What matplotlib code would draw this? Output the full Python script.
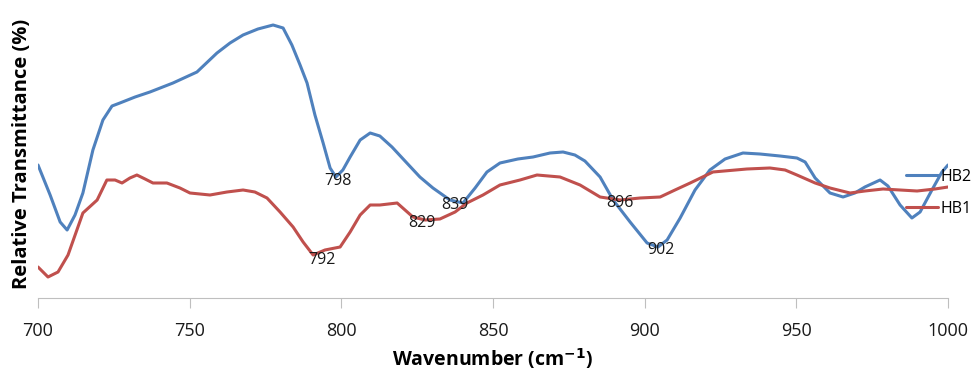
import matplotlib
matplotlib.use("Agg")
import matplotlib.pyplot as plt

plt.rcParams['font.family'] = ['Open Sans', 'DejaVu Sans']

# HB2 (blue) wavenumber / relative transmittance (arbitrary units)
hb2_x = [700.0, 704.0, 707.3, 709.6, 712.2, 714.8, 718.1, 721.4, 724.4, 727.0, 732.0, 736.9,
         744.5, 752.4, 759.0, 763.3, 767.6, 772.5, 777.5, 780.8, 783.7, 786.4, 788.7, 791.3,
         794.0, 796.3, 798.2, 800.5, 802.9, 806.2, 809.5, 812.7, 816.7, 821.6, 825.9, 830.2,
         835.8, 840.1, 844.1, 848.0, 852.3, 858.2, 863.2, 868.8, 873.1, 877.0, 880.3, 885.3,
         889.6, 895.2, 900.8, 904.4, 907.4, 911.7, 916.6, 921.5, 926.5, 932.4, 938.0, 944.6,
         950.2, 952.9, 956.2, 961.1, 965.4, 969.3, 972.6, 977.6, 980.2, 984.2, 988.1, 990.8,
         994.7, 998.0, 1000.0]
hb2_y = [133, 103, 76, 68, 83, 105, 148, 178, 192, 195, 201, 206,
         215, 226, 245, 255, 263, 269, 273, 270, 253, 233, 215, 183,
         155, 130, 121, 128, 141, 158, 165, 162, 151, 135, 121, 110,
         98, 95, 110, 126, 135, 139, 141, 145, 146, 143, 137, 121,
         98, 76, 55, 51, 58, 80, 108, 128, 139, 145, 144, 142,
         140, 136, 120, 105, 101, 105, 111, 118, 112, 93, 80, 86,
         108, 126, 133]

# HB1 (red)
hb1_x = [700.0, 703.3, 706.6, 709.9, 714.8, 719.5, 722.7, 725.4, 727.7, 730.3, 732.6, 735.3,
         737.9, 742.5, 746.8, 750.1, 756.7, 762.3, 767.6, 771.5, 775.5, 779.8, 784.1, 787.4,
         790.7, 794.6, 799.6, 802.9, 806.2, 809.5, 812.7, 818.4, 821.0, 823.6, 827.6, 832.5,
         837.5, 841.4, 846.7, 852.3, 858.9, 864.5, 872.1, 878.7, 885.3, 891.9, 898.5, 905.1,
         910.0, 915.0, 922.5, 933.7, 941.3, 946.3, 950.2, 956.2, 961.1, 967.7, 972.6, 978.6,
         984.2, 989.8, 995.7, 1000.0]
hb1_y = [31, 21, 26, 43, 85, 98, 118, 118, 115, 120, 123, 119,
         115, 115, 110, 105, 103, 106, 108, 106, 100, 86, 71, 56,
         43, 48, 51, 66, 83, 93, 93, 95, 88, 81, 78, 79,
         86, 95, 103, 113, 118, 123, 121, 113, 101, 98, 100, 101,
         108, 115, 126, 129, 130, 128, 123, 115, 110, 105, 107, 109,
         108, 107, 109, 111]

# peak annotations
peak_labels = ["798", "792", "829", "839", "896", "902"]
peak_x = [798.9, 793.6, 826.6, 837.5, 891.9, 905.4]
peak_y = [117, 38, 75, 93, 95, 48]

xticks = [700, 750, 800, 850, 900, 950, 1000]

fig = plt.figure(figsize=(9.8, 3.71), dpi=100)
ax = fig.add_axes([38 / 980, 73 / 371, 910 / 980, 288 / 371])

l2, = ax.plot(hb2_x, hb2_y, color='#4F81BD', lw=2.2, label='HB2',
              solid_joinstyle='round', solid_capstyle='round')
l1, = ax.plot(hb1_x, hb1_y, color='#C0504D', lw=2.2, label='HB1',
              solid_joinstyle='round', solid_capstyle='round')

for t, x, y in zip(peak_labels, peak_x, peak_y):
    ax.text(x, y, t, ha='center', va='center', fontsize=11.5, color='#1a1a1a')

ax.set_xlim(700, 1000)
ax.set_ylim(0, 288)
ax.set_xticks(xticks)
ax.set_yticks([])
for s in ['left', 'right', 'top']:
    ax.spines[s].set_visible(False)
ax.spines['bottom'].set_color('#BFBFBF')
ax.tick_params(axis='x', direction='out', length=7, color='#BFBFBF', labelsize=13,
               labelcolor='#1a1a1a', pad=10)

ax.set_xlabel('Wavenumber (cm$^{\\mathbf{-1}}$)', fontsize=14, fontweight='bold', labelpad=5)
ax.set_ylabel('Relative Transmittance (%)', fontsize=14.5, fontweight='bold', labelpad=4)

fig.legend(handles=[l2, l1], labels=['HB2', 'HB1'], loc='center left',
           bbox_to_anchor=(906 / 980, 1 - 193 / 371), frameon=False, fontsize=11.5,
           handlelength=2.0, handletextpad=0.15, labelspacing=1.0, borderaxespad=0,
           borderpad=0)

fig.savefig('out.png', dpi=100)
